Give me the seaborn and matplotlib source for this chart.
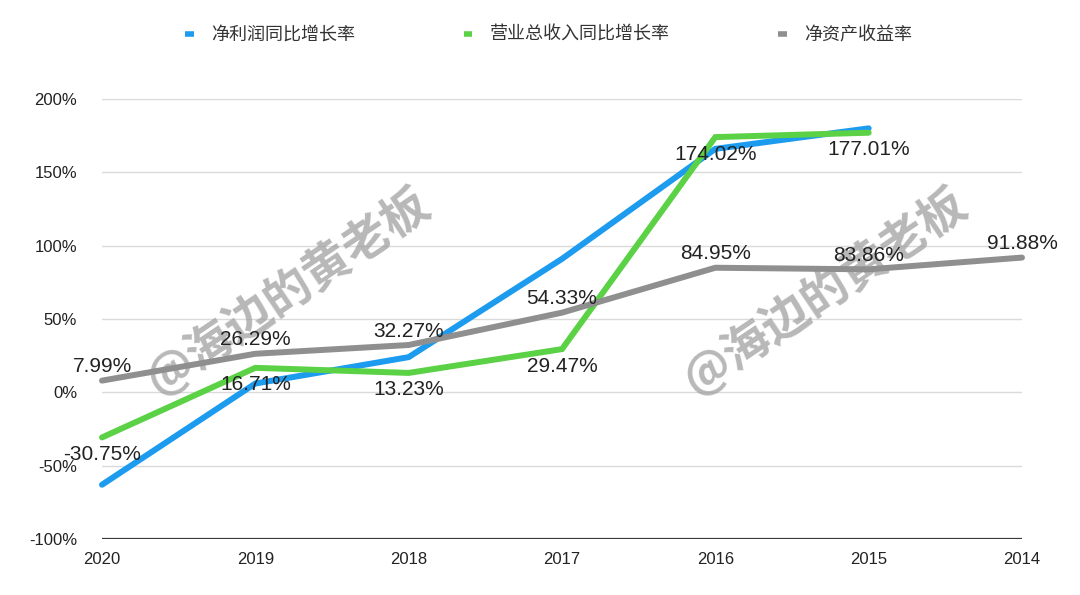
import numpy as np
import pandas as pd
import matplotlib
matplotlib.use('Agg')
import matplotlib.pyplot as plt
import seaborn as sns
from matplotlib.lines import Line2D

# ---- data ----
years = ['2020', '2019', '2018', '2017', '2016', '2015', '2014']
net_profit_growth = [-63.0, 6.0, 24.0, 91.0, 166.0, 180.0, np.nan]
revenue_growth = [-30.75, 16.71, 13.23, 29.47, 174.02, 177.01, np.nan]
roe = [7.99, 26.29, 32.27, 54.33, 84.95, 83.86, 91.88]
series_names = ['净利润同比增长率', '营业总收入同比增长率', '净资产收益率']
colors = ['#1c9bef', '#5bd146', '#8f8f8f']
yticks = [-100, -50, 0, 50, 100, 150, 200]
ytick_labels = ['-100%', '-50%', '0%', '50%', '100%', '150%', '200%']
watermark = '@海边的黄老板'

sns.set_style('white')
plt.rcParams['font.family'] = ['Liberation Sans', 'Noto Sans CJK SC', 'DejaVu Sans']

df = pd.DataFrame({
    'year': years * 3,
    'value': net_profit_growth + revenue_growth + roe,
    'series': [series_names[0]] * 7 + [series_names[1]] * 7 + [series_names[2]] * 7,
})
df = df.dropna()

fig = plt.figure(figsize=(10.8, 5.95), dpi=100)
ax = fig.add_axes([102 / 1080, 1 - 539 / 595, 920 / 1080, 440 / 595])

# watermarks
for (wx, wy) in [(288, 292), (825, 292)]:
    ax.text(wx / 1080, 1 - wy / 595, watermark, transform=fig.transFigure,
            rotation=34, ha='center', va='center', fontsize=34,
            family=['Noto Sans CJK SC', 'DejaVu Sans'], fontweight='bold',
            color='#a0a0a0', alpha=0.75, zorder=1, clip_on=False)

sns.lineplot(data=df, x='year', y='value', hue='series', hue_order=series_names,
             palette=colors, linewidth=4.3, sort=False, legend=False, ax=ax,
             zorder=3)
for ln in ax.lines:
    ln.set_clip_on(False)
    ln.set_solid_joinstyle('miter')

ax.set_xlim(0, 6)
ax.set_ylim(-100, 200)
ax.set_yticks(yticks)
ax.set_yticklabels(ytick_labels)
ax.set_xticks(range(len(years)))
ax.set_xticklabels(years)
ax.set_xlabel('')
ax.set_ylabel('')
ax.grid(axis='y', color='#dadada', linewidth=1)
ax.grid(axis='x', visible=False)
ax.axhline(-100, color='#3a3a3a', linewidth=1.6, zorder=2)
for s in ax.spines.values():
    s.set_visible(False)
ax.tick_params(axis='y', length=0, pad=18, labelsize=12, colors='#222222')
ax.tick_params(axis='x', length=0, pad=9, labelsize=12, colors='#222222')

# data labels
for i, v in enumerate(revenue_growth):
    if not np.isnan(v):
        ax.annotate(f'{v:.2f}%', (i, v), xytext=(0, -17), textcoords='offset pixels',
                    ha='center', va='center', fontsize=15, color='#222222',
                    zorder=5, annotation_clip=False)
for i, v in enumerate(roe):
    ax.annotate(f'{v:.2f}%', (i, v), xytext=(0, 14), textcoords='offset pixels',
                ha='center', va='center', fontsize=15, color='#222222',
                zorder=5, annotation_clip=False)

handles = [Line2D([0], [0], color=c, linewidth=4, solid_capstyle='butt') for c in colors]
fig.legend(handles, series_names, loc='center', bbox_to_anchor=(549 / 1080, 1 - 35 / 595),
           ncol=3, frameon=False, handlelength=0.45, handletextpad=1.0,
           columnspacing=6.0, labelcolor='#333333',
           prop={'family': ['Noto Sans CJK SC', 'DejaVu Sans'], 'size': 13})

fig.savefig('out.png', dpi=100)
